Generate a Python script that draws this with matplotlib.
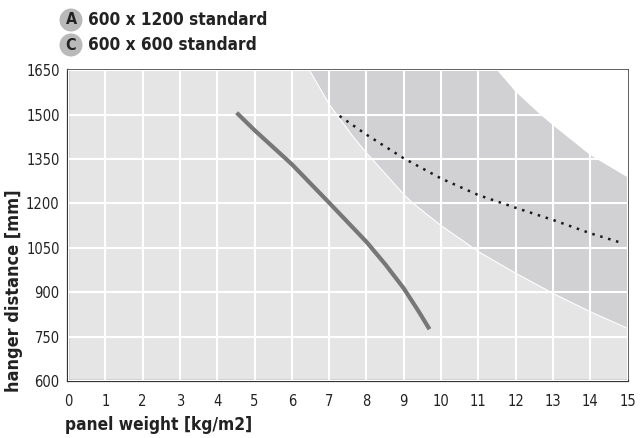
import numpy as np
import matplotlib.pyplot as plt

plt.rcParams['font.family'] = ['DejaVu Sans']
plt.rcParams['font.stretch'] = 'condensed'

# solid curve (600 x 1200 standard)
solid_x = [4.52, 5, 6, 7, 8, 8.5, 9, 9.4, 9.69]
solid_y = [1506, 1447, 1332, 1202, 1070, 995, 913, 835, 775]

# dotted curve (600 x 600 standard)
dot_x = [7.28, 8, 9, 10, 11, 12, 13, 14, 14.88]
dot_y = [1495, 1432, 1352, 1284, 1228, 1185, 1144, 1099, 1065]

# lower edge of the dark band
low_x = [6.47, 7, 7.2, 7.6, 8, 8.15, 9, 9.25, 10, 11, 12, 13, 14, 15]
low_y = [1650, 1535, 1500, 1432, 1370, 1350, 1230, 1200, 1125, 1037, 964, 896, 834, 778]

# upper edge of the dark band
up_x = [11.5, 12, 12.66, 13, 14, 15]
up_y = [1650, 1577, 1500, 1464, 1363, 1288]

xticks = list(range(0, 16))
yticks = [600, 750, 900, 1050, 1200, 1350, 1500, 1650]
legend_items = [('A', '600 x 1200 standard'), ('C', '600 x 600 standard')]

fig = plt.figure(figsize=(6.41, 4.38), dpi=100)
ax = fig.add_axes([0.1061, 0.130, 0.873, 0.710])
ax.set_xlim(0, 15)
ax.set_ylim(600, 1650)
ax.set_facecolor('#e5e5e6')

# dark band polygon
band_x = low_x + [15] + up_x[::-1]
band_y = low_y + [up_y[-1]] + up_y[::-1]
ax.fill(band_x, band_y, color='#d1d1d3', lw=0, zorder=1)
# white area above the band
ax.fill(up_x + [15], up_y + [1650], color='white', lw=0, zorder=1)

ax.set_xticks(xticks)
ax.set_yticks(yticks)
ax.grid(True, color='white', lw=1.5, zorder=2)
ax.set_axisbelow(False)
for gl in ax.get_xgridlines() + ax.get_ygridlines():
    gl.set_zorder(2)

ax.plot(low_x, low_y, color='white', lw=0.8, zorder=3)
ax.plot(solid_x, solid_y, color='#777777', lw=3, solid_capstyle='butt', zorder=4)
ax.plot(dot_x, dot_y, color='#1a1a1a', lw=1.8, linestyle=(0, (1, 2.3)), zorder=4)

ax.tick_params(length=0, labelsize=10.5, colors='#222222')
ax.tick_params(axis='x', pad=9)
ax.tick_params(axis='y', pad=6)

for side in ['left', 'bottom']:
    ax.spines[side].set_linewidth(1.6)
    ax.spines[side].set_color('#333333')
for side in ['top', 'right']:
    ax.spines[side].set_linewidth(1.3)
    ax.spines[side].set_color('#555555')

ax.set_ylabel('hanger distance [mm]', fontsize=13, fontweight='bold', color='#222222')
ax.yaxis.set_label_coords(-0.080, 0.29)
fig.text(65 / 641, 1 - 425 / 438, 'panel weight [kg/m2]', fontsize=12.4, fontweight='bold',
         color='#222222', ha='left', va='center')

for i, (letter, label) in enumerate(legend_items):
    yc = 1 - (20 + 25 * i) / 438
    fig.text(71 / 641, yc, letter, fontsize=11.5, fontweight='bold', color='#222222',
             ha='center', va='center',
             bbox=dict(boxstyle='circle,pad=0.25', fc='#b9b9b9', ec='none'))
    fig.text(88 / 641, yc, label, fontsize=12.3, fontweight='bold', color='#222222',
             ha='left', va='center')

fig.savefig('out.png', dpi=100)
